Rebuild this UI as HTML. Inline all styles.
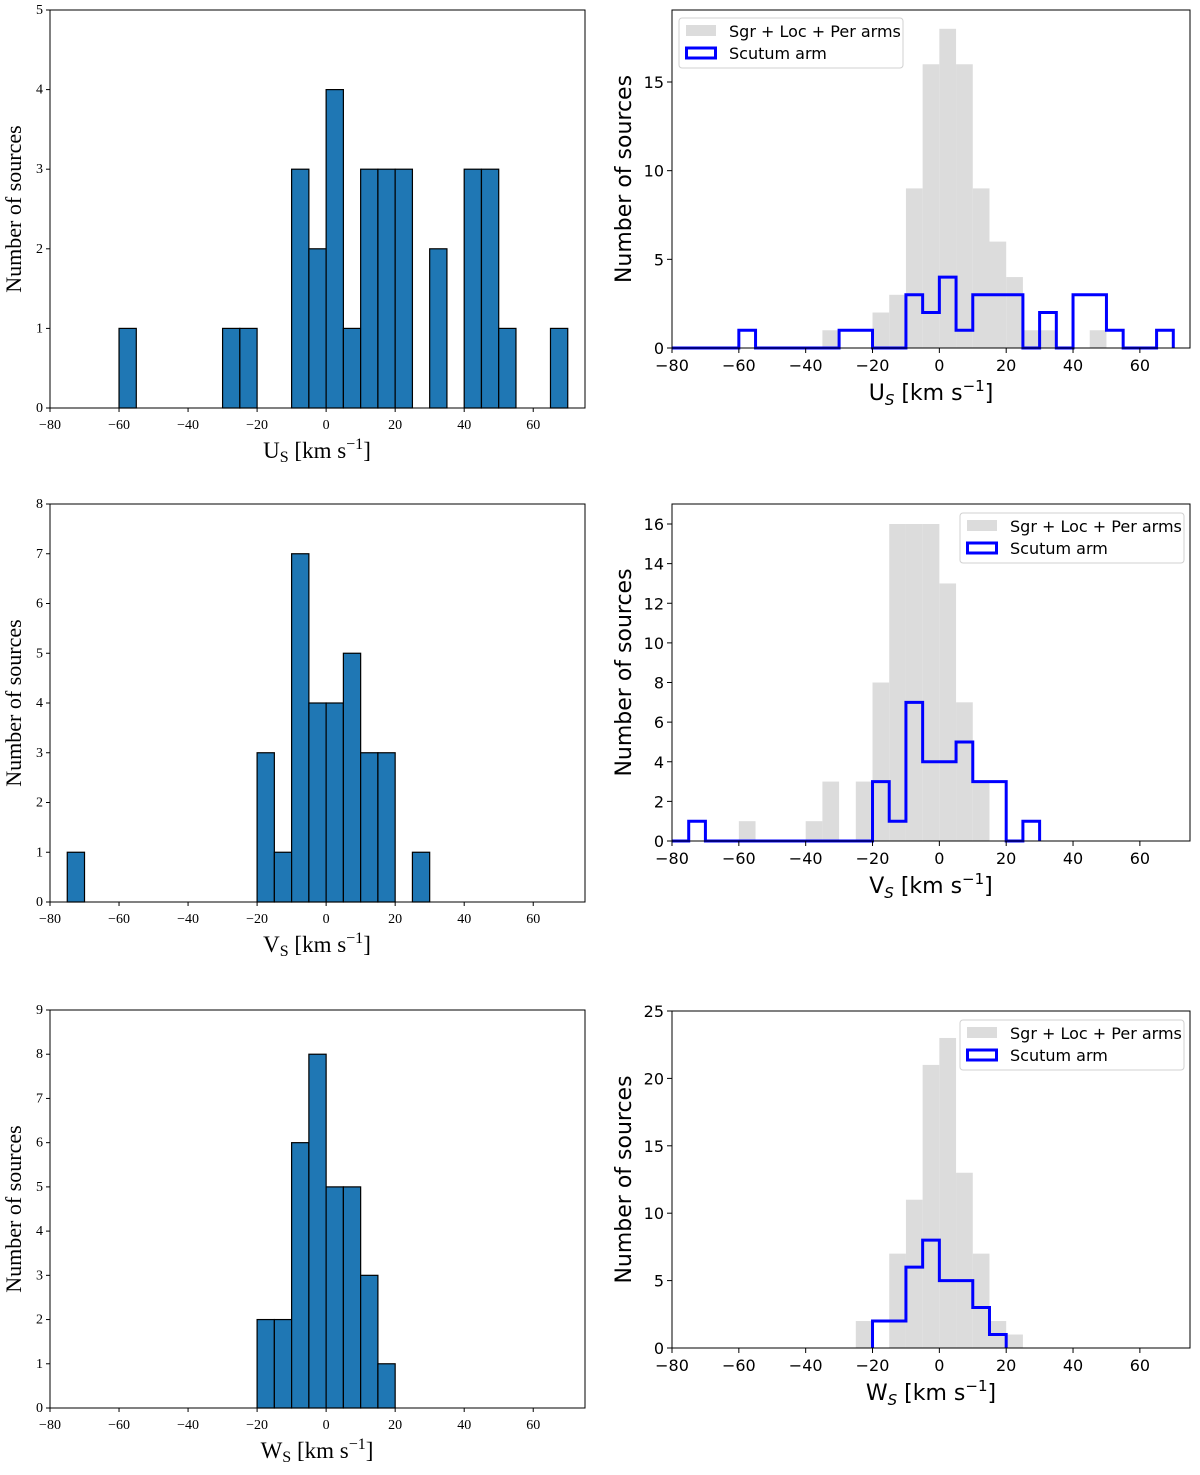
<!DOCTYPE html>
<html><head><meta charset="utf-8"><style>
body{margin:0;background:#fff;}
svg{display:block;}
.serif{font-family:"Liberation Serif",serif;}
.sans{font-family:"DejaVu Sans","Liberation Sans",sans-serif;}
</style></head><body>
<svg id="fig" width="1200" height="1475" viewBox="0 0 1200 1475" xmlns="http://www.w3.org/2000/svg"></svg>
<script>
// ---- data ----
const usBins = [-60,-30,-25,-10,-5,0,5,10,15,20,30,40,45,50,65];
const usCounts = [1,1,1,3,2,4,1,3,3,3,2,3,3,1,1];
const vsBins = [-75,-20,-15,-10,-5,0,5,10,15,25];
const vsCounts = [1,3,1,7,4,4,5,3,3,1];
const wsBins = [-20,-15,-10,-5,0,5,10,15];
const wsCounts = [2,2,6,8,5,5,3,1];
const usOtherBins = [-35,-20,-15,-10,-5,0,5,10,15,20,25,30,45];
const usOtherCounts = [1,2,3,9,16,18,16,9,6,4,1,1,1];
const vsOtherBins = [-60,-40,-35,-25,-20,-15,-10,-5,0,5,10];
const vsOtherCounts = [1,1,3,3,8,16,16,16,13,7,3];
const wsOtherBins = [-25,-15,-10,-5,0,5,10,15,20];
const wsOtherCounts = [2,7,11,21,23,13,7,2,1];
const xTicks = [-80,-60,-40,-20,0,20,40,60];
const leftYTicks = [[0,1,2,3,4,5],[0,1,2,3,4,5,6,7,8],[0,1,2,3,4,5,6,7,8,9]];
const rightYTicks = [[0,5,10,15],[0,2,4,6,8,10,12,14,16],[0,5,10,15,20,25]];
const axisLetters = ["U","V","W"];
const binWidth = 5;

const NS="http://www.w3.org/2000/svg";
const svg=document.getElementById('fig');
function mk(tag,attrs,parent){const e=document.createElementNS(NS,tag);for(const k in attrs)e.setAttribute(k,attrs[k]);(parent||svg).appendChild(e);return e;}

const leftGeom=[{t:10,b:408,ymax:5},{t:504,b:902,ymax:8},{t:1010,b:1408,ymax:9}];
const rightGeom=[{t:10,b:348,ymax:19.06},{t:504,b:841,ymax:17.01},{t:1011,b:1348,ymax:25.0}];
const scuBins=[usBins,vsBins,wsBins], scuCounts=[usCounts,vsCounts,wsCounts];
const othBins=[usOtherBins,vsOtherBins,wsOtherBins], othCounts=[usOtherCounts,vsOtherCounts,wsOtherCounts];
const stepRange=[[-80,70],[-80,30],[-20,20]];
const legendY=[18,513,1020];

for(let p=0;p<3;p++){
  // ---------- LEFT PANEL ----------
  const L=leftGeom[p], lx0=50, lx1=585;
  const xL=v=>lx0+(v+80)*(lx1-lx0)/155;
  const yL=v=>L.b-v*(L.b-L.t)/L.ymax;
  const gL=mk('g',{});
  
  
  scuBins[p].forEach((b,i)=>{
    const r=mk('rect',{x:xL(b),y:yL(scuCounts[p][i]),width:xL(b+binWidth)-xL(b),height:yL(0)-yL(scuCounts[p][i]),fill:'#1f77b4',stroke:'#000','stroke-width':1.2},gL);
    
    
  });
  const fr=mk('rect',{x:lx0,y:L.t,width:lx1-lx0,height:L.b-L.t,fill:'none',stroke:'#000','stroke-width':1},gL);
  
  
  xTicks.forEach(v=>{
    mk('line',{x1:xL(v),x2:xL(v),y1:L.b,y2:L.b+4,stroke:'#000'},gL);
    const t=mk('text',{x:xL(v),y:L.b+21,'text-anchor':'middle','font-size':14,class:'serif'},gL);
    t.textContent=(v<0?'\u2212'+(-v):v);
    
    
  });
  leftYTicks[p].forEach(v=>{
    mk('line',{x1:lx0-4,x2:lx0,y1:yL(v),y2:yL(v),stroke:'#000'},gL);
    const t=mk('text',{x:lx0-7,y:yL(v)+4,'text-anchor':'end','font-size':14,class:'serif'},gL);
    t.textContent=v;
    
    
  });
  const yt=mk('text',{x:0,y:0,transform:`translate(21,${(L.t+L.b)/2}) rotate(-90)`,'text-anchor':'middle','font-size':22,class:'serif'},gL);
  yt.textContent='Number of sources';
  
  
  const xt=mk('text',{x:317,y:L.b+50,'text-anchor':'middle','font-size':23,class:'serif'},gL);
  xt.innerHTML=axisLetters[p]+'<tspan font-size="16" dy="4">S</tspan><tspan dy="-4"> [km s</tspan><tspan font-size="16" dy="-9">\u22121</tspan><tspan dy="9">]</tspan>';
  
  

  // ---------- RIGHT PANEL ----------
  const R=rightGeom[p], rx0=672, rx1=1190;
  const xR=v=>rx0+(v+80)*(rx1-rx0)/155;
  const yR=v=>R.b-v*(R.b-R.t)/R.ymax;
  const gR=mk('g',{});
  
  
  othBins[p].forEach((b,i)=>{
    const r=mk('rect',{x:xR(b),y:yR(othCounts[p][i]),width:xR(b+binWidth)-xR(b),height:yR(0)-yR(othCounts[p][i]),fill:'#dcdcdc'},gR);
    
    
  });
  const [s0,s1]=stepRange[p];
  let d='';
  for(let b=s0;b<s1;b+=binWidth){
    const idx=scuBins[p].indexOf(b);
    const c=idx>=0?scuCounts[p][idx]:0;
    d+=(b===s0?`M${xR(b)},${yR(0)} L${xR(b)},${yR(c)}`:` L${xR(b)},${yR(c)}`)+` L${xR(Math.min(b+binWidth,s1))},${yR(c)}`;
  }
  d+=` L${xR(s1)},${yR(0)}`;
  const st=mk('path',{d:d,fill:'none',stroke:'#0000ff','stroke-width':3,'stroke-linejoin':'miter'},gR);
  
  
  const fr2=mk('rect',{x:rx0,y:R.t,width:rx1-rx0,height:R.b-R.t,fill:'none',stroke:'#000','stroke-width':1},gR);
  
  
  xTicks.forEach(v=>{
    mk('line',{x1:xR(v),x2:xR(v),y1:R.b,y2:R.b+5,stroke:'#000'},gR);
    const t=mk('text',{x:xR(v),y:R.b+23,'text-anchor':'middle','font-size':16,class:'sans'},gR);
    t.textContent=(v<0?'\u2212'+(-v):v);
    
    
  });
  rightYTicks[p].forEach(v=>{
    mk('line',{x1:rx0-5,x2:rx0,y1:yR(v),y2:yR(v),stroke:'#000'},gR);
    const t=mk('text',{x:rx0-8,y:yR(v)+6,'text-anchor':'end','font-size':16,class:'sans'},gR);
    t.textContent=v;
    
    
  });
  const yt2=mk('text',{x:0,y:0,transform:`translate(631,${(R.t+R.b)/2}) rotate(-90)`,'text-anchor':'middle','font-size':22,class:'sans'},gR);
  yt2.textContent='Number of sources';
  
  
  const xt2=mk('text',{x:931,y:R.b+52,'text-anchor':'middle','font-size':22,class:'sans'},gR);
  xt2.innerHTML=axisLetters[p]+'<tspan font-size="15" dy="5" font-style="italic">S</tspan><tspan dy="-5"> [km s</tspan><tspan font-size="15" dy="-9">\u22121</tspan><tspan dy="9">]</tspan>';
  
  

  const lgx=p===0?679:960, lgy=legendY[p];
  const lg=mk('g',{},gR);
  
  
  mk('rect',{x:lgx,y:lgy,width:224,height:50,rx:3,fill:'#fff','fill-opacity':0.85,stroke:'#d0d0d0'},lg);
  const e1=mk('g',{},lg);
  
  
  mk('rect',{x:lgx+7,y:lgy+7,width:30,height:11,fill:'#dcdcdc'},e1);
  const t1=mk('text',{x:lgx+50,y:lgy+19,'font-size':16,class:'sans'},e1);t1.textContent='Sgr + Loc + Per arms';
  const e2=mk('g',{},lg);
  
  
  mk('rect',{x:lgx+7.5,y:lgy+30,width:29,height:10,fill:'none',stroke:'#0000ff','stroke-width':3},e2);
  const t2=mk('text',{x:lgx+50,y:lgy+41,'font-size':16,class:'sans'},e2);t2.textContent='Scutum arm';
}
</script>
</body></html>
